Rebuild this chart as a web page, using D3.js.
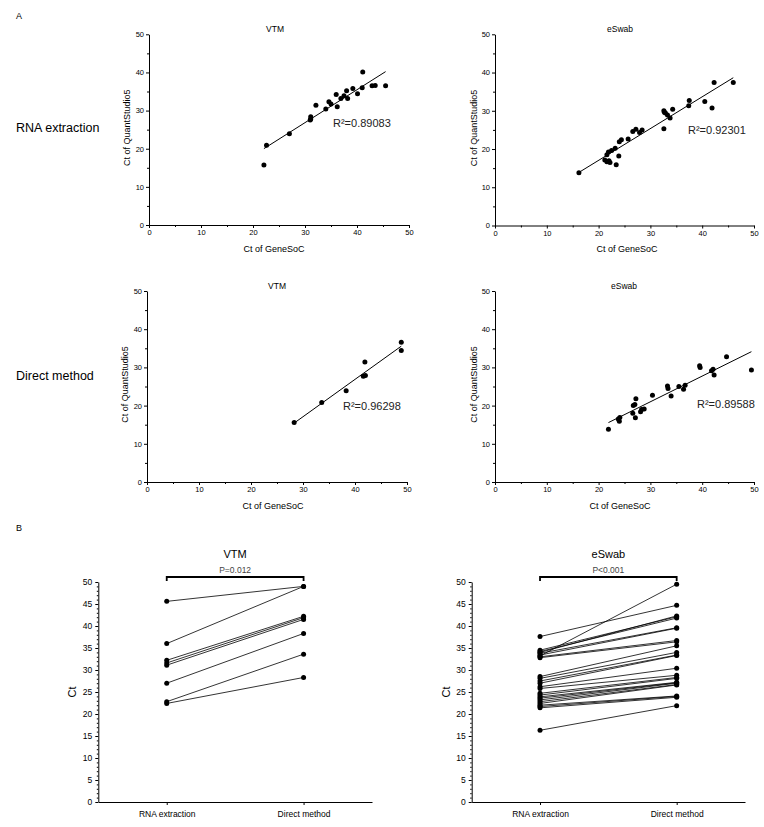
<!DOCTYPE html>
<html>
<head>
<meta charset="utf-8">
<script src="https://cdn.jsdelivr.net/npm/d3@7"></script>
<style>
  html, body { margin: 0; padding: 0; background: #fff; }
  svg { display: block; font-family: "Liberation Sans", Arial, sans-serif; }
</style>
</head>
<body>
<svg id="chart" width="764" height="827"></svg>
<script>
// ---------------- DATA ----------------
const axisTicks = [0, 10, 20, 30, 40, 50];
const minorTicks = [5, 15, 25, 35, 45];
const pairTicks = [0, 5, 10, 15, 20, 25, 30, 35, 40, 45, 50];
const pairCategories = ["RNA extraction", "Direct method"];
const rowLabels = ["RNA extraction", "Direct method"];

// A: VTM, RNA extraction
const vtmRnaX = [22.1, 22.6, 27.0, 31.0, 31.1, 31.1, 32.1, 34.0, 34.6, 35.0, 36.0, 36.2, 36.9, 37.5, 38.0, 38.2, 39.2, 40.1, 41.1, 41.0, 42.9, 43.5, 45.5];
const vtmRnaY = [15.7, 20.9, 23.9, 27.5, 28.4, 27.8, 31.4, 30.4, 32.3, 31.7, 34.2, 31.0, 33.2, 33.9, 35.2, 33.2, 35.8, 34.4, 40.1, 36.0, 36.5, 36.6, 36.5];
// A: eSwab, RNA extraction
const eswabRnaX = [16.2, 21.2, 21.6, 22.2, 23.4, 21.6, 21.9, 22.5, 23.2, 23.9, 24.0, 24.4, 25.7, 26.6, 27.2, 27.9, 28.4, 32.6, 32.6, 32.9, 33.3, 33.8, 34.3, 37.4, 37.5, 40.5, 41.9, 42.3, 46.0, 32.7, 22.0];
const eswabRnaY = [13.8, 17.1, 16.7, 16.5, 15.9, 18.5, 19.2, 19.6, 20.2, 18.2, 21.9, 22.4, 22.6, 24.6, 25.2, 24.3, 25.0, 25.3, 30.0, 29.4, 28.9, 28.1, 30.4, 31.3, 32.7, 32.4, 30.7, 37.4, 37.4, 29.6, 16.9];
// A: VTM, Direct method
const vtmDirX = [28.3, 33.6, 38.3, 41.9, 41.6, 42.0, 48.9, 48.9];
const vtmDirY = [15.6, 20.8, 23.9, 31.4, 27.7, 27.9, 36.6, 34.4];
// A: eSwab, Direct method
const eswabDirX = [21.9, 23.8, 24.0, 24.1, 26.6, 26.7, 27.0, 27.2, 27.1, 28.1, 28.3, 28.8, 30.4, 33.3, 33.4, 34.0, 35.5, 36.4, 36.7, 39.5, 39.6, 41.8, 42.1, 42.3, 44.7, 49.5];
const eswabDirY = [13.8, 16.5, 15.9, 16.9, 18.0, 20.0, 20.3, 21.8, 16.8, 18.4, 19.0, 19.1, 22.7, 25.1, 24.5, 22.5, 25.0, 24.3, 25.3, 30.4, 30.0, 29.1, 29.5, 28.0, 32.8, 29.3];
const r2Labels = ["R²=0.89083", "R²=0.92301", "R²=0.96298", "R²=0.89588"];

// B: paired Ct values
const vtmPairRna    = [45.6, 36.0, 32.2, 31.6, 31.1, 27.0, 22.8, 22.4];
const vtmPairDirect = [49.0, 49.0, 42.2, 41.9, 41.5, 38.3, 33.6, 28.3];
const eswabPairRna    = [16.3, 21.4, 21.7, 22.0, 22.4, 22.8, 23.2, 23.6, 23.9, 24.3, 24.7, 25.8, 26.2, 27.0, 27.5, 28.1, 28.5, 32.8, 33.0, 33.4, 33.8, 34.0, 34.2, 34.5, 33.2, 37.6];
const eswabPairDirect = [21.9, 23.8, 24.0, 24.1, 26.6, 26.7, 27.0, 27.1, 27.2, 28.1, 28.3, 28.8, 30.4, 33.3, 33.4, 34.0, 35.5, 36.4, 36.7, 39.5, 39.6, 42.3, 41.8, 42.1, 49.5, 44.7];
const pLabels = ["P=0.012", "P<0.001"];

// ---------------- DRAW ----------------
const svg = d3.select("#chart");
const FONT = "'Liberation Sans', Arial, sans-serif";

function styleAxis(g) {
  g.select(".domain").attr("stroke", "#000").attr("stroke-width", 1);
  g.selectAll(".tick line").attr("stroke", "#000").attr("stroke-width", 1);
  g.selectAll(".tick text").attr("fill", "#000");
}

function scatterPanel(o) {
  const x = d3.scaleLinear().domain([0, 50]).range([o.x0, o.x1]);
  const y = d3.scaleLinear().domain([0, 50]).range([o.y0, o.y1]);
  const g = svg.append("g");

  const gx = g.append("g").attr("transform", `translate(0,${o.y0})`)
    .call(d3.axisBottom(x).tickValues(axisTicks).tickSize(3).tickSizeOuter(0).tickPadding(2));
  gx.selectAll("text").attr("font-size", 7.5).attr("font-family", FONT);
  styleAxis(gx);
  const gxm = g.append("g").attr("transform", `translate(0,${o.y0})`)
    .call(d3.axisBottom(x).tickValues(minorTicks).tickSize(2).tickFormat(""));
  gxm.select(".domain").remove(); styleAxis(gxm);

  const gy = g.append("g").attr("transform", `translate(${o.x0},0)`)
    .call(d3.axisLeft(y).tickValues(axisTicks).tickSize(3).tickSizeOuter(0).tickPadding(2));
  gy.selectAll("text").attr("font-size", 7.5).attr("font-family", FONT);
  styleAxis(gy);
  const gym = g.append("g").attr("transform", `translate(${o.x0},0)`)
    .call(d3.axisLeft(y).tickValues(minorTicks).tickSize(2).tickFormat(""));
  gym.select(".domain").remove(); styleAxis(gym);

  // regression line (least squares from the data)
  const mx = d3.mean(o.xs), my = d3.mean(o.ys);
  let sxy = 0, sxx = 0;
  o.xs.forEach((v, i) => { sxy += (v - mx) * (o.ys[i] - my); sxx += (v - mx) * (v - mx); });
  const b = sxy / sxx, a = my - b * mx;
  const xmin = d3.min(o.xs), xmax = d3.max(o.xs);
  g.append("line")
    .attr("x1", x(xmin)).attr("y1", y(a + b * xmin))
    .attr("x2", x(xmax)).attr("y2", y(a + b * xmax))
    .attr("stroke", "#000").attr("stroke-width", 1);

  g.selectAll("circle.pt").data(o.xs).join("circle")
    .attr("class", "pt")
    .attr("cx", d => x(d)).attr("cy", (d, i) => y(o.ys[i]))
    .attr("r", 2.5).attr("fill", "#000");

  g.append("text").attr("x", o.titleX).attr("y", o.titleY).attr("text-anchor", "middle")
    .attr("font-size", 8.5).attr("font-family", FONT).text(o.title);
  g.append("text").attr("x", o.xlabX).attr("y", o.xlabY).attr("text-anchor", "middle")
    .attr("font-size", 9).attr("font-family", FONT).text("Ct of GeneSoC");
  g.append("text").attr("transform", `translate(${o.ylabX},${(o.y0 + o.y1) / 2 - 2}) rotate(-90)`)
    .attr("text-anchor", "middle").attr("font-size", 9).attr("font-family", FONT)
    .text("Ct of QuantStudio5");
  g.append("text").attr("x", o.r2X).attr("y", o.r2Y)
    .attr("font-size", 11).attr("font-family", FONT).attr("fill", "#222").text(o.r2);
}

scatterPanel({ xs: vtmRnaX, ys: vtmRnaY, x0: 149, x1: 409, y0: 225, y1: 34.3,
  title: "VTM", titleX: 275, titleY: 32, xlabX: 274, xlabY: 252, ylabX: 130,
  r2: r2Labels[0], r2X: 333, r2Y: 127 });
scatterPanel({ xs: eswabRnaX, ys: eswabRnaY, x0: 495, x1: 754, y0: 225.5, y1: 34.3,
  title: "eSwab", titleX: 620, titleY: 32, xlabX: 627, xlabY: 252, ylabX: 477,
  r2: r2Labels[1], r2X: 688, r2Y: 134 });
scatterPanel({ xs: vtmDirX, ys: vtmDirY, x0: 147, x1: 407, y0: 482, y1: 291,
  title: "VTM", titleX: 277, titleY: 289, xlabX: 273, xlabY: 509, ylabX: 128,
  r2: r2Labels[2], r2X: 343, r2Y: 410 });
scatterPanel({ xs: eswabDirX, ys: eswabDirY, x0: 495, x1: 754, y0: 482, y1: 291,
  title: "eSwab", titleX: 624, titleY: 289, xlabX: 620, xlabY: 509, ylabX: 476.5,
  r2: r2Labels[3], r2X: 697, r2Y: 408 });

// row labels and panel letters
svg.append("text").attr("x", 16).attr("y", 19).attr("font-size", 9).attr("font-family", FONT).text("A");
svg.append("text").attr("x", 16).attr("y", 531).attr("font-size", 9).attr("font-family", FONT).text("B");
svg.append("text").attr("x", 16).attr("y", 132).attr("font-size", 12.5).attr("font-family", FONT).text(rowLabels[0]);
svg.append("text").attr("x", 16).attr("y", 380).attr("font-size", 12.5).attr("font-family", FONT).text(rowLabels[1]);

function pairedPanel(o) {
  const x = d3.scalePoint().domain(pairCategories).range([o.x0, o.x1]).padding(0.5);
  const y = d3.scaleLinear().domain([0, 50]).range([802, 582]);
  const g = svg.append("g");

  const gx = g.append("g").attr("transform", `translate(0,802)`)
    .call(d3.axisBottom(x).tickSize(3).tickSizeOuter(0).tickPadding(6));
  gx.selectAll("text").attr("font-size", 8.5).attr("font-family", FONT);
  styleAxis(gx);

  const gy = g.append("g").attr("transform", `translate(${o.x0},0)`)
    .call(d3.axisLeft(y).tickValues(pairTicks).tickSize(3).tickSizeOuter(0).tickPadding(3));
  gy.selectAll("text").attr("font-size", 8.5).attr("font-family", FONT);
  styleAxis(gy);
  const gym = g.append("g").attr("transform", `translate(${o.x0},0)`)
    .call(d3.axisLeft(y).tickValues(d3.range(0, 51, 1).filter(v => v % 5 !== 0)).tickSize(1.5).tickFormat(""));
  gym.select(".domain").remove(); styleAxis(gym);

  const xa = x(pairCategories[0]), xb = x(pairCategories[1]);
  g.selectAll("line.pair").data(o.rna).join("line").attr("class", "pair")
    .attr("x1", xa).attr("y1", d => y(d))
    .attr("x2", xb).attr("y2", (d, i) => y(o.dir[i]))
    .attr("stroke", "#000").attr("stroke-width", 0.8);
  g.selectAll("circle.a").data(o.rna).join("circle").attr("class", "a")
    .attr("cx", xa).attr("cy", d => y(d)).attr("r", 2.5).attr("fill", "#000");
  g.selectAll("circle.b").data(o.dir).join("circle").attr("class", "b")
    .attr("cx", xb).attr("cy", d => y(d)).attr("r", 2.5).attr("fill", "#000");

  // significance bracket
  g.append("path")
    .attr("d", `M${xa},581 V577 H${xb} V581`)
    .attr("fill", "none").attr("stroke", "#000").attr("stroke-width", 1.8);
  g.append("text").attr("x", (xa + xb) / 2).attr("y", 572.5).attr("text-anchor", "middle")
    .attr("font-size", 8.5).attr("font-family", FONT).attr("fill", "#444").text(o.p);
  g.append("text").attr("x", (xa + xb) / 2).attr("y", 557.5).attr("text-anchor", "middle")
    .attr("font-size", 11).attr("font-family", FONT).text(o.title);
  g.append("text").attr("transform", `translate(${o.x0 - 22},692) rotate(-90)`)
    .attr("text-anchor", "middle").attr("font-size", 11).attr("font-family", FONT).text("Ct");
}

pairedPanel({ rna: vtmPairRna, dir: vtmPairDirect, x0: 98.3, x1: 372, title: "VTM", p: pLabels[0] });
pairedPanel({ rna: eswabPairRna, dir: eswabPairDirect, x0: 471.7, x1: 745, title: "eSwab", p: pLabels[1] });
</script>
</body>
</html>
